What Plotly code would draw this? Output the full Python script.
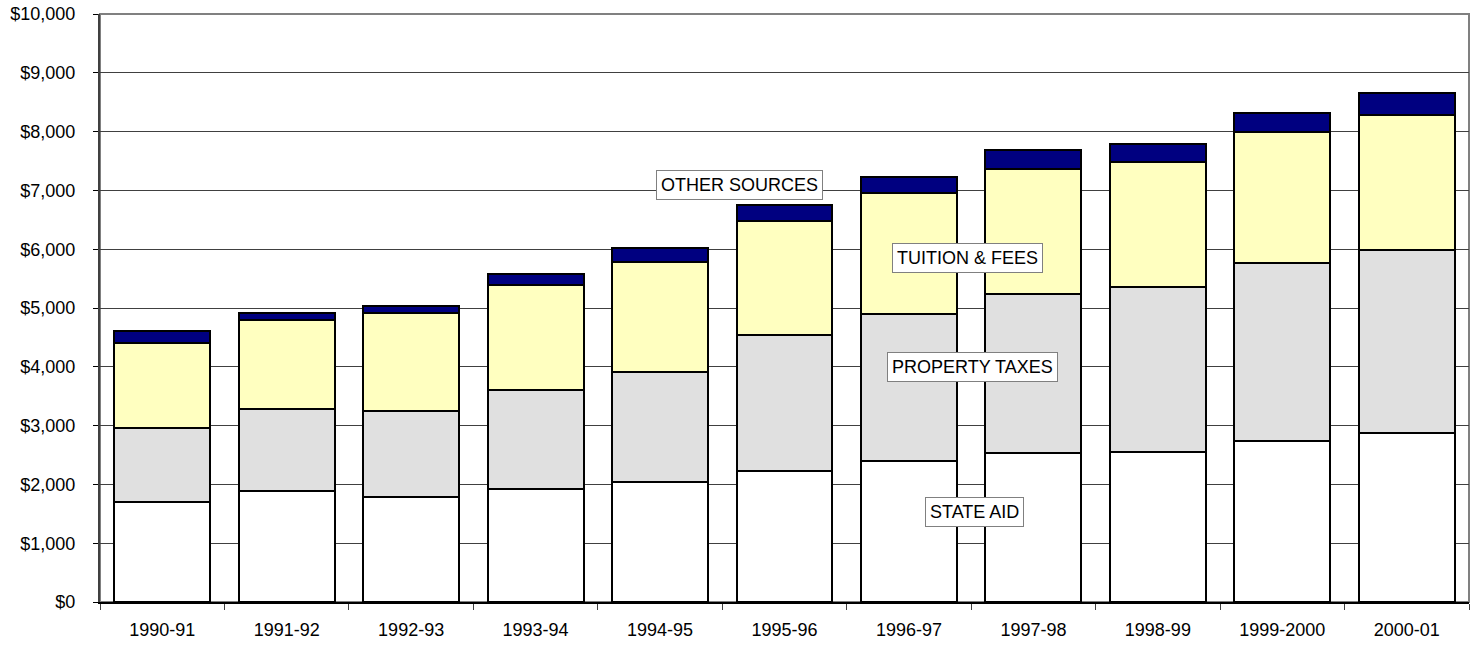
import plotly.graph_objects as go

years = ['1990-91', '1991-92', '1992-93', '1993-94', '1994-95', '1995-96',
         '1996-97', '1997-98', '1998-99', '1999-2000', '2000-01']

# dollars per student
state_aid = [1705, 1890, 1790, 1917, 2046, 2230, 2398, 2530, 2556, 2738, 2874]
property_taxes = [1255, 1390, 1450, 1688, 1860, 2310, 2492, 2710, 2794, 3022, 3112]
tuition_fees = [1450, 1520, 1670, 1785, 1874, 1945, 2060, 2120, 2140, 2240, 2304]
other_sources = [200, 110, 130, 190, 240, 265, 270, 320, 300, 320, 360]

series = [
    ('STATE AID', state_aid, '#FFFFFF'),
    ('PROPERTY TAXES', property_taxes, '#E0E0E0'),
    ('TUITION & FEES', tuition_fees, '#FFFFC0'),
    ('OTHER SOURCES', other_sources, '#000080'),
]

# label boxes: (text, x in paper, y in dollars)
labels = [
    ('OTHER SOURCES', 0.467, 7090),
    ('TUITION & FEES', 0.634, 5850),
    ('PROPERTY TAXES', 0.637, 4000),
    ('STATE AID', 0.639, 1530),
]

fig = go.Figure()
for name, vals, col in series:
    fig.add_trace(go.Bar(x=years, y=vals, name=name, marker_color=col,
                         marker_line_color='black', marker_line_width=2))

for txt, xp, yv in labels:
    fig.add_annotation(text=txt, x=xp, xref='paper', y=yv, yref='y',
                       showarrow=False, bgcolor='white', bordercolor='#808080',
                       borderwidth=1, borderpad=4,
                       font=dict(size=18, color='black'))

# plot-area frame (gray, as in the spreadsheet chart)
fig.add_shape(type='rect', xref='paper', yref='paper', x0=0, x1=1, y0=0, y1=1,
              line=dict(color='#808080', width=2), layer='below')

fig.update_layout(
    barmode='stack', bargap=0.23, showlegend=False,
    width=1474, height=645,
    margin=dict(l=100, r=5, t=14, b=43, autoexpand=False),
    paper_bgcolor='white', plot_bgcolor='white',
    font=dict(family='Liberation Sans, Arial, sans-serif', size=18, color='black'),
)
fig.update_xaxes(type='category', showline=True, linecolor='black', linewidth=2,
                 ticks='outside', tickson='boundaries', ticklen=6,
                 tickcolor='#404040', showgrid=False, automargin=False,
                 ticklabelstandoff=10)
fig.update_yaxes(range=[0, 10000], dtick=1000, tickprefix='$', tickformat=',d',
                 showline=True, linecolor='#404040', linewidth=2,
                 ticks='outside', ticklen=5, tickcolor='black',
                 showgrid=True, gridcolor='#404040', gridwidth=1,
                 zeroline=False, automargin=False, ticklabelstandoff=14,
                 ticklabeloverflow='allow')

# drop the default 8px page margin so the figure fills the window
fig.write_html("out.html", config={'displayModeBar': False},
               post_script="document.body.style.margin='0';")
